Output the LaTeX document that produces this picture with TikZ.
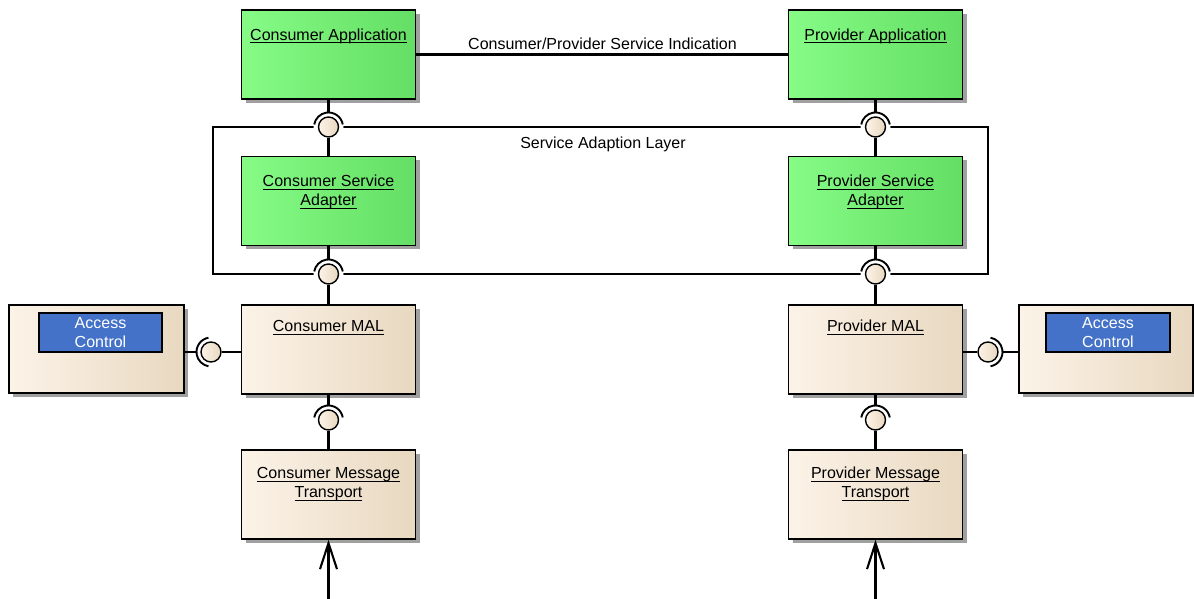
\documentclass[tikz,border=0pt]{standalone}
\usepackage{fontspec}
\setmainfont{Liberation Sans}
\usetikzlibrary{arrows.meta,shadows}

\definecolor{gL}{RGB}{134,252,134}
\definecolor{gR}{RGB}{100,222,100}
\definecolor{tL}{RGB}{252,243,232}
\definecolor{tR}{RGB}{232,216,192}
\definecolor{acblue}{RGB}{68,114,200}
\definecolor{shadowgray}{RGB}{160,160,160}

\newcommand\myul[1]{\setbox0\hbox{#1}\rlap{\rule[-2.6pt]{\wd0}{0.9pt}}\box0}

\tikzset{
  comp/.style={draw=black, line width=1.5pt, minimum width=174pt, minimum height=89pt, inner sep=0pt,
    drop shadow={shadow xshift=4pt, shadow yshift=-4pt, fill=shadowgray, opacity=1}},
  appbox/.style={comp, left color=gL, right color=gR},
  tanbox/.style={comp, left color=tL, right color=tR},
  lbl/.style={font=\fontsize{16}{19}\selectfont, align=center, anchor=base, inner sep=0pt},
  ball/.style={circle, draw=black, line width=1.4pt, minimum size=20pt, inner sep=0pt, left color=tL, right color=tR},
  sockpos/.style={circle, fill=white, minimum size=30pt, inner sep=0pt},
  sock/.style={line width=1.9pt},
  wire/.style={draw=black, line width=2.1pt},
  acbox/.style={draw=black, line width=1.2pt, fill=acblue, minimum width=123pt, minimum height=39pt, inner sep=0pt,
    text=white, font=\fontsize{16}{19.5}\selectfont, align=center},
}

\begin{document}
\begin{tikzpicture}[x=1pt,y=1pt]
\useasboundingbox (0,0) rectangle (1194,599);

% layer boundary
\node[draw=black, line width=1.5pt, minimum width=775pt, minimum height=147pt, inner sep=0pt] (sal) at (600.5,398.5) {};
\node[lbl] (sallbl) at (603,450.5) {Service Adaption Layer};

% components
\node[appbox] (capp) at (328.5,544.5) {};
\node[appbox] (papp) at (875.5,544.5) {};
\node[appbox] (csa) at (328.5,398) {};
\node[appbox] (psa) at (875.5,398) {};
\node[tanbox] (cmal) at (328.5,249.5) {};
\node[tanbox] (pmal) at (875.5,249.5) {};
\node[tanbox] (cmt) at (328.5,104.5) {};
\node[tanbox] (pmt) at (875.5,104.5) {};
\node[tanbox, minimum width=175pt, minimum height=88pt] (acl) at (96.5,250) {};
\node[tanbox, minimum width=174pt, minimum height=88pt] (acr) at (1106,250) {};
\node[acbox] (acli) at (100.5,266.5) {Access\\Control};
\node[acbox, minimum width=124pt] (acri) at (1108,266.5) {Access\\Control};

% component texts
\node[lbl] (cappt) at (328.5,558.5) {\myul{Consumer Application}};
\node[lbl] (pappt) at (875.5,558.5) {\myul{Provider Application}};
\node[lbl] (csat) at (328.5,393) {\myul{Consumer Service}\\\myul{Adapter}};
\node[lbl] (psat) at (875.5,393) {\myul{Provider Service}\\\myul{Adapter}};
\node[lbl] (cmalt) at (328.5,267) {\myul{Consumer MAL}};
\node[lbl] (pmalt) at (875.5,267) {\myul{Provider MAL}};
\node[lbl] (cmtt) at (328.5,101) {\myul{Consumer Message}\\\myul{Transport}};
\node[lbl] (pmtt) at (875.5,101) {\myul{Provider Message}\\\myul{Transport}};

% sockets (required interfaces): white ground, then arc
\foreach \n/\x/\y in {1/328.5/472, 2/328.5/325, 3/211/247, 4/328.5/179, 5/875.5/472, 6/875.5/325, 7/988/247, 8/875.5/179}{
  \node[sockpos] (s\n) at (\x,\y) {};
}
\foreach \s in {s1,s2,s4,s5,s6,s8}{
  \draw[sock] ([shift={(10:14.5pt)}]\s.center) arc[start angle=10,end angle=170,radius=14.5pt];}
\draw[sock] ([shift={(100:14.5pt)}]s3.center) arc[start angle=100,end angle=260,radius=14.5pt];
\draw[sock] ([shift={(-80:14.5pt)}]s7.center) arc[start angle=-80,end angle=80,radius=14.5pt];

% balls (provided interfaces)
\foreach \n in {1,...,8}{
  \node[ball] (b\n) at (s\n) {};
}

\coordinate (src1) at (328.5,0);
\coordinate (src2) at (875.5,0);

% connectors
\foreach \a/\b in {capp/papp, capp/s1, b1/csa, csa/s2, b2/cmal, cmal/s4, b4/cmt,
                   papp/s5, b5/psa, psa/s6, b6/pmal, pmal/s8, b8/pmt}{
  \path[wire] (\a) -- (\b);
}
\path[wire] (acl.east |- s3) -- (s3);
\path[wire] (b3) -- (cmal.west |- b3);
\path[wire] (pmal.east |- b7) -- (b7);
\path[wire] (s7) -- (acr.west |- s7);
\path[wire, -{Straight Barb[length=26pt,width=17pt,line width=2.1pt]}] (src1) -- (cmt);
\path[wire, -{Straight Barb[length=26pt,width=17pt,line width=2.1pt]}] (src2) -- (pmt);

\node[lbl] (indt) at (602.5,549.7) {Consumer/Provider Service Indication};
\end{tikzpicture}
\end{document}
